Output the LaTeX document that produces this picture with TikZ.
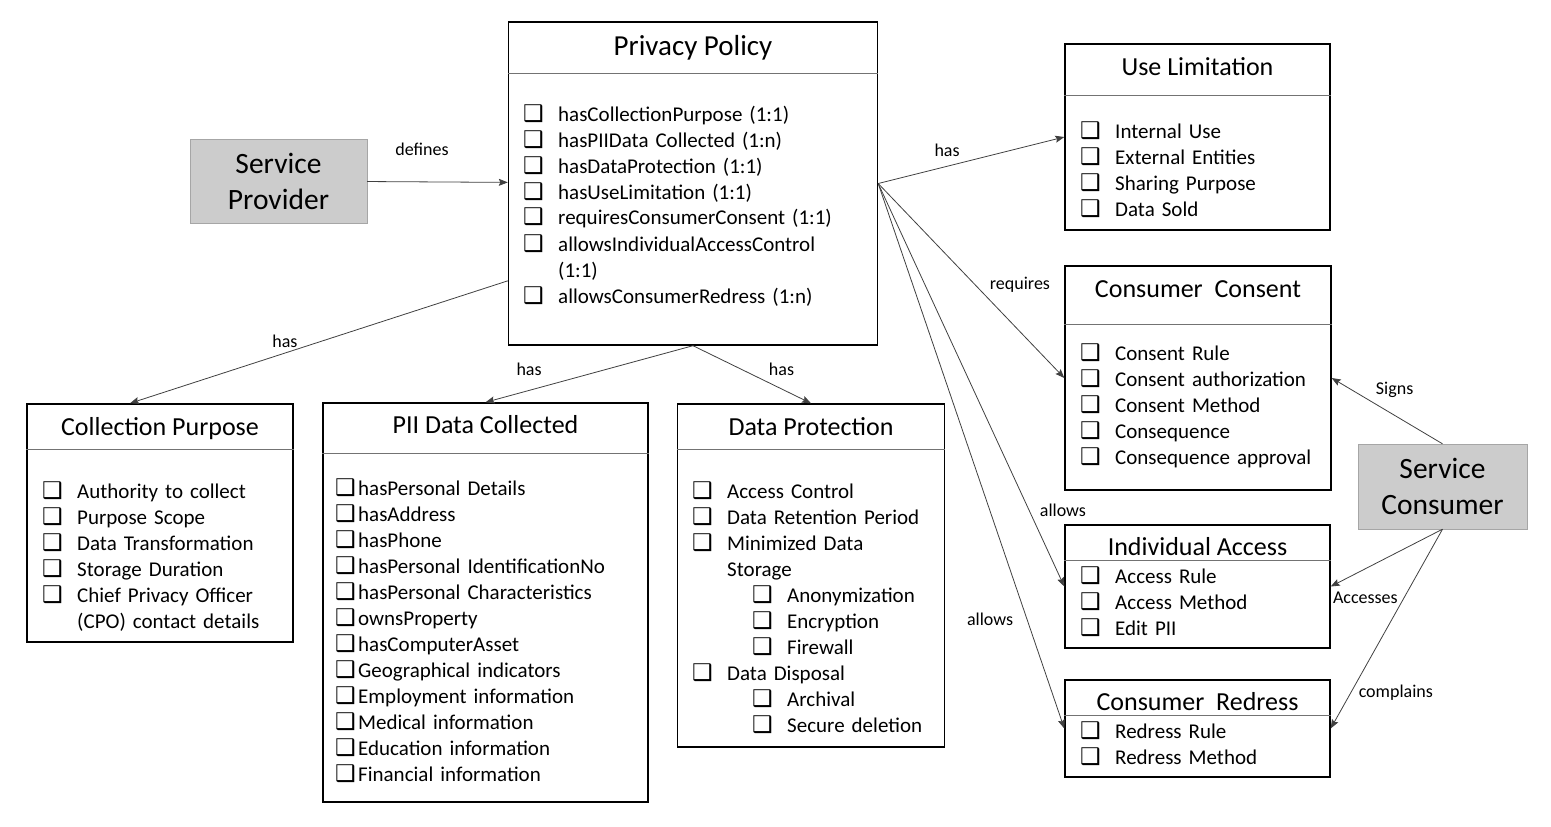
\documentclass[tikz,border=0pt]{standalone}
\usepackage{fontspec}
\setmainfont{Carlito}
\newfontfamily\boxfont{DejaVu Sans}
\usetikzlibrary{arrows.meta,calc}

\newcommand{\ck}[1][35pt]{\makebox[#1][l]{\boxfont\fontsize{23}{23}\selectfont ❑}}

\begin{document}
\begin{tikzpicture}[x=1pt, y=-1pt]
  \tikzstyle{box} = [rectangle, draw=black, line width=1.4pt, inner sep=0pt]
  \tikzstyle{actor} = [rectangle, draw=gray!70, fill=gray!40, align=center, inner sep=0pt, font=\fontsize{29.5}{36}\selectfont]
  \tikzstyle{head} = [anchor=base, inner sep=0pt, font=\fontsize{26}{30}\selectfont]
  \tikzstyle{items} = [anchor=base west, inner sep=0pt, align=left, font=\fontsize{21}{26}\selectfont]
  \tikzstyle{rule} = [draw=black!55, line width=0.9pt]
  \tikzstyle{arrow} = [draw=black!75, line width=0.8pt, ->, >={Stealth[length=9pt, width=7pt, inset=1.5pt]}]
  \tikzstyle{lbl} = [inner sep=0pt, font=\fontsize{18}{20}\selectfont]
  \useasboundingbox (0,0) rectangle (1551,827);

  % actors
  \node(sp)[actor, minimum width=177, minimum height=84] at (278.5,181) {Service\\Provider};
  \node(sc)[actor, minimum width=169, minimum height=85] at (1442.5,486.5) {Service\\Consumer};

  % privacy policy
  \node(pp)[box, minimum width=369, minimum height=323] at (693,183.5) {};
  \node(pp-t)[head, font=\fontsize{29}{34}\selectfont] at ($(pp.north)+(0,34)$) {Privacy Policy};
  \draw [rule] ($(pp.north west)+(0,52)$) -- ($(pp.north east)+(0,52)$);
  \node(pp-l)[items, text width=345] at (523,121) {\ck hasCollectionPurpose~(1:1)\\
    \ck hasPIIData Collected (1:n)\\
    \ck hasDataProtection (1:1)\\
    \ck hasUseLimitation (1:1)\\
    \ck requiresConsumerConsent~(1:1)\\
    \ck allowsIndividualAccessControl\\
    \hspace*{35pt}(1:1)\\
    \ck allowsConsumerRedress (1:n)};

  % right column
  \node(ul)[box, minimum width=265, minimum height=186] at (1197.5,137) {};
  \node(ul-t)[head] at ($(ul.north)+(0,32)$) {Use Limitation};
  \draw [rule] ($(ul.north west)+(0,52)$) -- ($(ul.north east)+(0,52)$);
  \node(ul-l)[items, text width=245] at (1080,138) {\ck Internal Use\\
    \ck External Entities\\
    \ck Sharing Purpose\\
    \ck Data Sold};

  \node(cc)[box, minimum width=266, minimum height=224] at (1198,378) {};
  \node(cc-t)[head] at ($(cc.north)+(0,32)$) {Consumer~~Consent};
  \draw [rule] ($(cc.north west)+(0,59)$) -- ($(cc.north east)+(0,59)$);
  \node(cc-l)[items, text width=245] at (1080,360) {\ck Consent Rule\\
    \ck Consent authorization\\
    \ck Consent Method\\
    \ck Consequence\\
    \ck Consequence~approval};

  \node(ia)[box, minimum width=265, minimum height=123] at (1197.5,586.5) {};
  \node(ia-t)[head] at ($(ia.north)+(0,31)$) {Individual Access};
  \draw [rule] ($(ia.north west)+(0,36)$) -- ($(ia.north east)+(0,36)$);
  \node(ia-l)[items, text width=245] at (1080,583) {\ck Access Rule\\
    \ck Access Method\\
    \ck Edit PII};

  \node(cr)[box, minimum width=265, minimum height=97] at (1197.5,728.5) {};
  \node(cr-t)[head] at ($(cr.north)+(0,31)$) {Consumer~~Redress};
  \draw [rule] ($(cr.north west)+(0,36)$) -- ($(cr.north east)+(0,36)$);
  \node(cr-l)[items, text width=245] at (1080,738) {\ck Redress Rule\\
    \ck Redress Method};

  % bottom row
  \node(cp)[box, minimum width=266, minimum height=238] at (160,523) {};
  \node(cp-t)[head] at ($(cp.north)+(0,32)$) {Collection Purpose};
  \draw [rule] ($(cp.north west)+(0,46)$) -- ($(cp.north east)+(0,46)$);
  \node(cp-l)[items, text width=248] at (42,498) {\ck Authority to collect\\
    \ck Purpose Scope\\
    \ck Data Transformation\\
    \ck Storage Duration\\
    \ck Chief Privacy Officer\\
    \hspace*{35pt}(CPO) contact details};

  \node(pii)[box, minimum width=325, minimum height=399] at (485.5,602.5) {};
  \node(pii-t)[head] at ($(pii.north)+(0,31)$) {PII Data Collected};
  \draw [rule] ($(pii.north west)+(0,51)$) -- ($(pii.north east)+(0,51)$);
  \node(pii-l)[items, text width=305] at (335,495) {\ck[23pt]hasPersonal Details\\
    \ck[23pt]hasAddress\\
    \ck[23pt]hasPhone\\
    \ck[23pt]hasPersonal IdentificationNo\\
    \ck[23pt]hasPersonal Characteristics\\
    \ck[23pt]ownsProperty\\
    \ck[23pt]hasComputerAsset\\
    \ck[23pt]Geographical indicators\\
    \ck[23pt]Employment information\\
    \ck[23pt]Medical information\\
    \ck[23pt]Education information\\
    \ck[23pt]Financial information};

  \node(dp)[box, minimum width=267, minimum height=343] at (811,575.5) {};
  \node(dp-t)[head] at ($(dp.north)+(0,32)$) {Data Protection};
  \draw [rule] ($(dp.north west)+(0,46)$) -- ($(dp.north east)+(0,46)$);
  \node(dp-l)[items, text width=248] at (692,498) {\ck Access Control\\
    \ck Data Retention Period\\
    \ck Minimized Data\\
    \hspace*{35pt}Storage\\
    \hspace*{60pt}\ck Anonymization\\
    \hspace*{60pt}\ck Encryption\\
    \hspace*{60pt}\ck Firewall\\
    \ck Data Disposal\\
    \hspace*{60pt}\ck Archival\\
    \hspace*{60pt}\ck Secure deletion};

  % connectors
  \draw [arrow] (sp) -- node(l-def)[lbl, pos=0.39, yshift=33pt]{defines} (pp);
  \draw [arrow] (pp.east) -- node(l-ul)[lbl, pos=0.37, yshift=16pt]{has} (ul.west);
  \draw [arrow] (pp.east) -- node(l-cc)[lbl, pos=0.52, xshift=45pt]{requires} (cc.west);
  \draw [arrow] (pp.east) -- node(l-ia)[lbl, pos=0.81, xshift=34pt]{allows} (ia.west);
  \draw [arrow] (pp.east) -- node(l-cr)[lbl, pos=0.8, xshift=-37pt]{allows} (cr.west);
  \draw [arrow] (sc.north) -- node(l-sg)[lbl, pos=0.82, xshift=43pt]{Signs} (cc.east);
  \draw [arrow] (sc.south) -- node(l-ac)[lbl, pos=0.69, yshift=-29pt]{Accesses} (ia.east);
  \draw [arrow] (sc.south) -- node(l-cm)[lbl, pos=0.82, xshift=45pt]{complains} (cr.east);
  \draw [arrow] ($(pp.south west)!0.2!(pp.north west)$) -- node(l-cp)[lbl, pos=0.59, yshift=12pt]{has} ($(cp.north)+(-30,0)$);
  \draw [arrow] (pp.south) -- node(l-pii)[lbl, pos=0.79, yshift=21pt]{has} (pii.north);
  \draw [arrow] (pp.south) -- node(l-dp)[lbl, pos=0.75, yshift=20pt]{has} (dp.north);
\end{tikzpicture}
\end{document}
